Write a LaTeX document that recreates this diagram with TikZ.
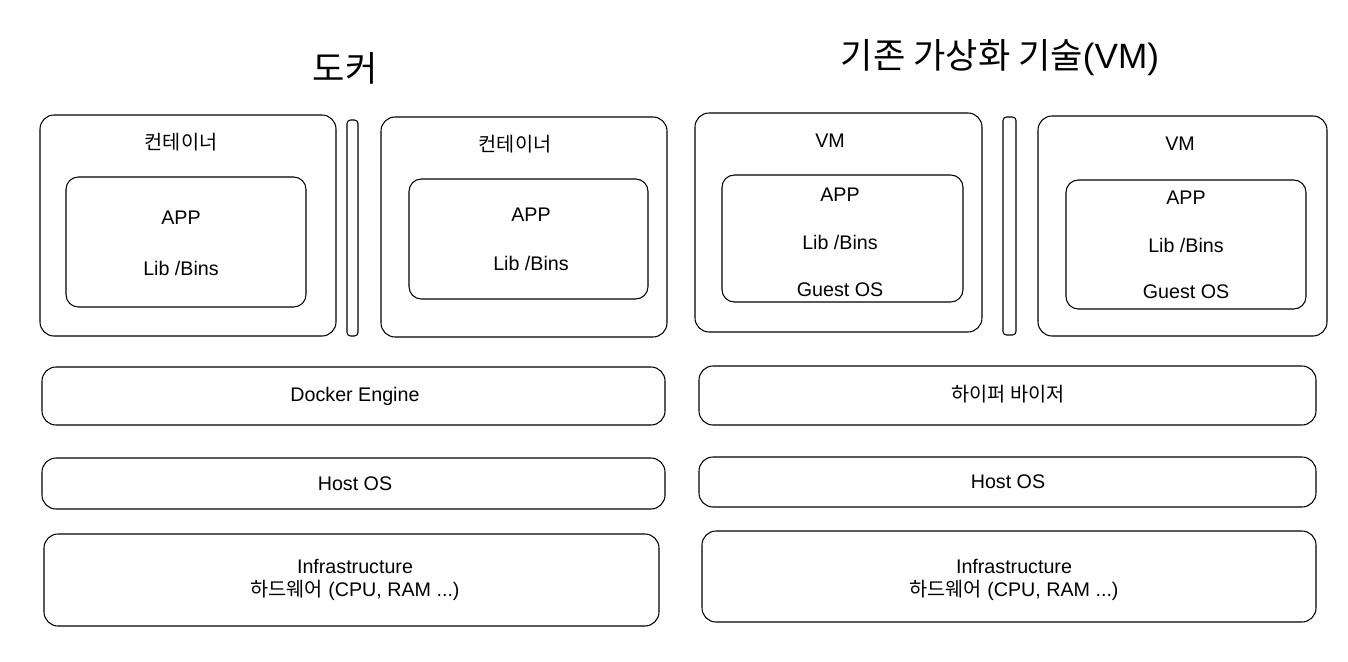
\documentclass[tikz,border=0pt]{standalone}
\usepackage{fontspec}
\setmainfont{Liberation Sans}
\newfontfamily\kr{Noto Sans CJK KR}
\usetikzlibrary{positioning}

\tikzset{
	box/.style={draw, line width=0.6pt, rounded corners=8pt},
	inbox/.style={draw, line width=0.6pt, rounded corners=7pt},
	bar/.style={draw, line width=0.6pt, rounded corners=2pt},
	lbl/.style={font=\fontsize{11.2}{13}\selectfont, align=center},
	ttl/.style={font=\fontsize{20}{24}\selectfont}
}

\begin{document}
\begin{tikzpicture}[x=0.02cm,y=-0.02cm]
			\useasboundingbox (0,0) rectangle (1348,662);
			% titles
			\node[ttl] (dtitle) at (345,68) {\kr 도커};
			\node[ttl] (vtitle) at (1000,58) {{\kr 기존 가상화 기술}(VM)};
			% docker side
			\draw[box] (40,115) rectangle (336,336);
			\draw[inbox] (66,177) rectangle (306,307);
			\draw[bar] (347,120) rectangle (358,336);
			\draw[box] (381,117) rectangle (667,337);
			\draw[inbox] (409,179) rectangle (648,299);
			\node[lbl] (cname1) at (181,142) {\kr 컨테이너};
			\node[lbl] (capp1) at (181,218) {APP};
			\node[lbl] (clib1) at (181,268) {Lib /Bins};
			\node[lbl] (cname2) at (515,144) {\kr 컨테이너};
			\node[lbl] (capp2) at (531,215) {APP};
			\node[lbl] (clib2) at (531,263) {Lib /Bins};
			\draw[box] (42,367) rectangle (665,425);
			\draw[box] (42,458) rectangle (665,509);
			\draw[box] (44,534) rectangle (659,626);
			\node[lbl] (engine) at (355,396) {Docker Engine};
			\node[lbl] (dhost) at (355,484) {Host OS};
			\node[lbl] (dinfra) at (355,580) {Infrastructure\\{\kr 하드웨어} (CPU, RAM ...)};
			% vm side
			\draw[box] (695,113) rectangle (982,332);
			\draw[inbox] (722,175) rectangle (963,302);
			\draw[bar] (1003,117) rectangle (1016,335);
			\draw[box] (1038,116) rectangle (1327,336);
			\draw[inbox] (1066,180) rectangle (1306,309);
			\node[lbl] (vname1) at (830,141) {VM};
			\node[lbl] (vapp1) at (840,195) {APP};
			\node[lbl] (vlib1) at (840,242) {Lib /Bins};
			\node[lbl] (vos1) at (840,290) {Guest OS};
			\node[lbl] (vname2) at (1180,144) {VM};
			\node[lbl] (vapp2) at (1186,198) {APP};
			\node[lbl] (vlib2) at (1186,245) {Lib /Bins};
			\node[lbl] (vos2) at (1186,292) {Guest OS};
			\draw[box] (699,366) rectangle (1316,425);
			\draw[box] (699,457) rectangle (1316,507);
			\draw[box] (702,531) rectangle (1316,622);
			\node[lbl] (hyper) at (1008,394) {\kr 하이퍼 바이저};
			\node[lbl] (vhost) at (1008,482) {Host OS};
			\node[lbl] (vinfra) at (1014,580) {Infrastructure\\{\kr 하드웨어} (CPU, RAM ...)};
		\end{tikzpicture}
\end{document}
